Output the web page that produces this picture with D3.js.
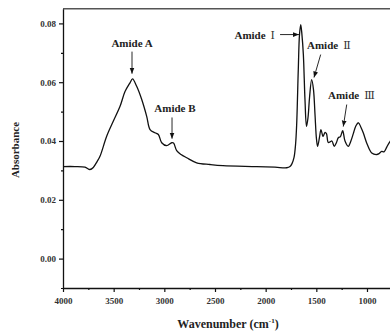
<!DOCTYPE html>
<html>
<head>
<meta charset="utf-8">
<script src="https://cdn.jsdelivr.net/npm/d3@7"></script>
<style>
  body { margin: 0; background: #fff; }
  svg { display: block; }
  svg text { font-family: "Liberation Serif", "Times New Roman", serif; font-weight: bold; }
</style>
</head>
<body>
<div id="chart"></div>
<script>
// FTIR spectrum
const wavenumber = [4000, 3882, 3783, 3734, 3701, 3664, 3635, 3569, 3504, 3437, 3388, 3339, 3314, 3273,
    3223, 3174, 3141, 3092, 3059, 3026, 2977, 2927, 2909, 2878, 2835, 2779, 2681, 2549, 2421, 2088,
    1908, 1792, 1760, 1740, 1720, 1705, 1694, 1678, 1666, 1654, 1642, 1628, 1612, 1597, 1582, 1567,
    1546, 1528, 1513, 1498, 1487, 1469, 1454, 1434, 1414, 1400, 1382, 1360, 1346, 1323, 1301, 1283,
    1262, 1240, 1217, 1185, 1158, 1135, 1109, 1084, 1059, 1037, 997, 953, 904, 881, 855, 832, 805,
    773, 724];
const absorbance = [0.0313, 0.0313, 0.0311, 0.0303, 0.0310, 0.0330, 0.0348, 0.0416, 0.0467, 0.0518,
    0.0568, 0.0598, 0.0611, 0.0586, 0.0541, 0.0484, 0.0439, 0.0428, 0.0422, 0.0394, 0.0384, 0.0394,
    0.0393, 0.0367, 0.0354, 0.0343, 0.0326, 0.0320, 0.0316, 0.0313, 0.0311, 0.0309, 0.0313, 0.0323,
    0.0344, 0.0388, 0.0456, 0.0643, 0.0762, 0.0796, 0.0762, 0.0694, 0.0541, 0.0450, 0.0480, 0.0548,
    0.0609, 0.0575, 0.0490, 0.0405, 0.0382, 0.0412, 0.0439, 0.0416, 0.0429, 0.0425, 0.0395, 0.0398,
    0.0400, 0.0382, 0.0395, 0.0411, 0.0415, 0.0435, 0.0400, 0.0382, 0.0401, 0.0425, 0.0452, 0.0462,
    0.0446, 0.0428, 0.0388, 0.0359, 0.0354, 0.0357, 0.0365, 0.0363, 0.0379, 0.0398, 0.0412];

const yTicks = [0.00, 0.02, 0.04, 0.06, 0.08];
const yMinorTicks = [-0.01, 0.01, 0.03, 0.05, 0.07];
const xTicks = [4000, 3500, 3000, 2500, 2000, 1500, 1000];
const xMinorTicks = [3750, 3250, 2750, 2250, 1750, 1250, 750];

// labels: name, roman numeral, text anchor point and arrow (from -> to), in data units
const annotations = [
    { label: "Amide A", num: "", tx: 3319, ty: 0.0721, anchor: "middle", ax1: 3319, ay1: 0.0704, ax2: 3319, ay2: 0.0629 },
    { label: "Amide B", num: "", tx: 2895, ty: 0.0497, anchor: "middle", ax1: 2924, ay1: 0.0480, ax2: 2924, ay2: 0.0408 },
    { label: "Amide", num: "Ⅰ", tx: 1908, ty: 0.0748, anchor: "end", ax1: 1858, ay1: 0.0762, ax2: 1671, ay2: 0.0762 },
    { label: "Amide", num: "Ⅱ", tx: 1592, ty: 0.0713, anchor: "start", ax1: 1457, ay1: 0.0694, ax2: 1523, ay2: 0.0616 },
    { label: "Amide", num: "Ⅲ", tx: 1385, ty: 0.0543, anchor: "start", ax1: 1200, ay1: 0.0524, ax2: 1234, ay2: 0.0449 }
];

const width = 390, height = 335;
const plotLeft = 63, plotTop = 8.7, plotBottom = 288;

const svg = d3.select("#chart")
    .append("svg")
    .attr("width", width)
    .attr("height", height);

const x = d3.scaleLinear().domain([4000, 400]).range([plotLeft, plotLeft + 3600 * 0.10133]);
const y = d3.scaleLinear().domain([-0.01, 0.085]).range([plotBottom, plotTop]);

svg.append("defs")
    .append("marker")
    .attr("id", "arrow")
    .attr("viewBox", "0 0 10 10")
    .attr("refX", 10)
    .attr("refY", 5)
    .attr("markerWidth", 6)
    .attr("markerHeight", 6)
    .attr("markerUnits", "userSpaceOnUse")
    .attr("orient", "auto")
    .append("path")
    .attr("d", "M0,1 L10,5 L0,9 Z")
    .attr("fill", "#111");

// top frame line
svg.append("line")
    .attr("x1", plotLeft).attr("x2", width)
    .attr("y1", plotTop).attr("y2", plotTop)
    .attr("stroke", "#555")
    .attr("stroke-width", 1.6);

const styleAxis = (g) => {
    g.attr("font-family", null).attr("font-size", null);
    g.select(".domain").attr("stroke", "#111").attr("stroke-width", 1.3);
    g.selectAll(".tick line").attr("stroke", "#111").attr("stroke-width", 1.2);
    g.selectAll("text")
        .attr("fill", "#333")
        .style("font-size", "9px");
};

svg.append("g")
    .attr("transform", `translate(${plotLeft},0)`)
    .call(d3.axisLeft(y).tickValues(yMinorTicks).tickSize(2).tickFormat(""))
    .call(g => g.select(".domain").remove())
    .selectAll("line").attr("stroke", "#111").attr("stroke-width", 1.2);

svg.append("g")
    .attr("transform", `translate(${plotLeft},0)`)
    .call(d3.axisLeft(y).tickValues(yTicks).tickSize(4).tickSizeOuter(0).tickPadding(3).tickFormat(d3.format(".2f")))
    .call(styleAxis);

svg.append("g")
    .attr("transform", `translate(0,${plotBottom})`)
    .call(d3.axisBottom(x).tickValues(xMinorTicks).tickSize(2).tickFormat(""))
    .call(g => g.select(".domain").remove())
    .selectAll("line").attr("stroke", "#111").attr("stroke-width", 1.2);

svg.append("g")
    .attr("transform", `translate(0,${plotBottom})`)
    .call(d3.axisBottom(x).tickValues(xTicks).tickSize(4).tickSizeOuter(0).tickPadding(6).tickFormat(d3.format("d")))
    .call(styleAxis);

// spectrum
const spectrum = wavenumber.map((w, i) => ({ w: w, a: absorbance[i] }));

svg.append("path")
    .datum(spectrum)
    .attr("d", d3.line()
        .x(d => x(d.w))
        .y(d => y(d.a))
        .curve(d3.curveCatmullRom.alpha(0.5)))
    .attr("fill", "none")
    .attr("stroke", "#111")
    .attr("stroke-width", 1.3);

// peak labels
const notes = svg.append("g").attr("class", "annotations");

notes.selectAll("line")
    .data(annotations)
    .enter()
    .append("line")
    .attr("x1", d => x(d.ax1))
    .attr("y1", d => y(d.ay1))
    .attr("x2", d => x(d.ax2))
    .attr("y2", d => y(d.ay2))
    .attr("stroke", "#111")
    .attr("stroke-width", 0.9)
    .attr("marker-end", "url(#arrow)");

const labels = notes.selectAll("text")
    .data(annotations)
    .enter()
    .append("text")
    .attr("x", d => x(d.tx))
    .attr("y", d => y(d.ty))
    .attr("text-anchor", d => d.anchor)
    .attr("fill", "#222")
    .style("font-size", "11px");

labels.append("tspan").text(d => d.label);
labels.filter(d => d.num)
    .append("tspan")
    .attr("dx", 5)
    .style("font-family", "'DejaVu Serif', serif")
    .style("font-weight", "normal")
    .style("font-size", "11px")
    .attr("fill", "#333")
    .text(d => d.num);

// axis titles
svg.append("text")
    .attr("transform", "translate(19,150) rotate(-90)")
    .attr("text-anchor", "middle")
    .attr("fill", "#222")
    .style("font-size", "11px")
    .text("Absorbance");

const xTitle = svg.append("text")
    .attr("x", 228)
    .attr("y", 328)
    .attr("text-anchor", "middle")
    .attr("fill", "#222")
    .style("font-size", "12px");
xTitle.append("tspan").text("Wavenumber (cm");
xTitle.append("tspan").attr("dy", -5).style("font-size", "7px").text("-1");
xTitle.append("tspan").attr("dy", 5).text(")");
</script>
</body>
</html>
